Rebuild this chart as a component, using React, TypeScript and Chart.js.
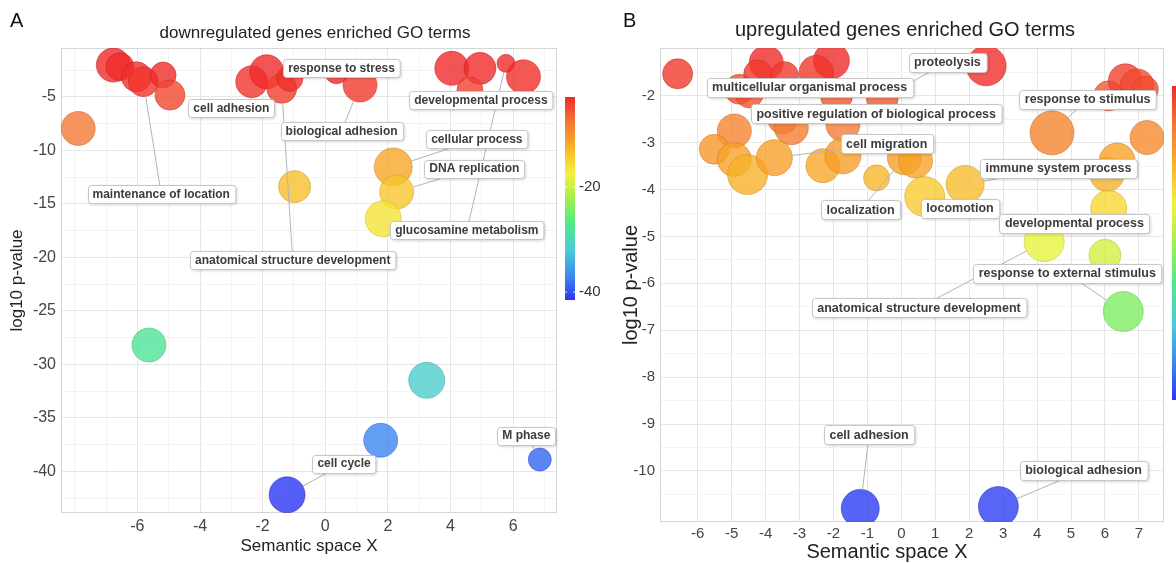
import React, { useEffect, useRef } from "react";
import { Chart, registerables } from "chart.js";

Chart.register(...registerables);

const FONT = '"Liberation Sans", Arial, Helvetica, sans-serif';

// ---------------- Panel A : downregulated ----------------
const downTitle = "downregulated genes enriched GO terms";
const downX = [-6.77, -6.56, -6.03, -5.81, -5.18, -4.96, -7.89, -2.35, -1.87, -1.39, -1.13, 0.36, 1.11, -0.98, 4.04, 4.94, 5.77, 6.33, 4.62, 2.17, 2.28, 1.85, -5.63, 3.24, 1.77, -1.22, 6.85];
const downY = [-2.03, -2.19, -3.13, -3.59, -2.97, -4.84, -7.96, -3.59, -2.66, -4.21, -3.28, -2.66, -3.9, -13.4, -2.34, -2.34, -1.87, -3.13, -4.37, -11.56, -13.9, -16.4, -28.2, -31.5, -37.1, -42.2, -38.9];
const downSize = [17, 14, 15, 15, 13, 15, 17, 16, 17, 15, 13, 12, 17, 16, 17, 16, 9, 17, 13, 19, 17, 18, 17, 18, 17, 18, 11.5];

const downLabelText = ["response to stress", "cell adhesion", "biological adhesion", "developmental process", "cellular process", "DNA replication", "glucosamine metabolism", "maintenance of location", "anatomical structure development", "cell cycle", "M phase"];
const downLabelX = [0.52, -3.0, 0.52, 4.97, 4.84, 4.76, 4.52, -5.24, -1.04, 0.6, 6.42];
const downLabelY = [-2.34, -6.09, -8.19, -5.31, -8.98, -11.71, -17.49, -14.12, -20.3, -39.28, -36.66];
const downLabelTarget = [-1, -1, 12, -1, 19, 20, 16, 3, 9, 25, 26];

const downXTicks = [-6, -4, -2, 0, 2, 4, 6];
const downXGrid = [-8, -7, -6, -5, -4, -3, -2, -1, 0, 1, 2, 3, 4, 5, 6, 7];
const downYTicks = [-5, -10, -15, -20, -25, -30, -35, -40];
const downYGrid = [-2.5, -5, -7.5, -10, -12.5, -15, -17.5, -20, -22.5, -25, -27.5, -30, -32.5, -35, -37.5, -40, -42.5];
const downColorTicks = [-20, -40];

// ---------------- Panel B : upregulated ----------------
const upTitle = "upregulated genes enriched GO terms";
const upX = [-6.59, -4.77, -4.48, -3.98, -4.23, -3.44, -2.06, -2.51, -1.91, -0.56, -3.49, -3.24, -1.72, -4.92, -5.51, -4.92, -4.53, -3.74, -2.31, -1.72, -0.73, 0.09, 0.42, 0.69, 1.88, 2.5, 4.44, 6.11, 6.6, 6.95, 7.19, 7.24, 6.36, 6.06, 6.11, 4.21, 6.0, 6.54, -1.21, 2.86];
const upY = [-1.53, -1.86, -1.96, -1.29, -1.53, -1.57, -1.25, -1.5, -2.0, -2.04, -2.5, -2.68, -2.61, -2.75, -3.14, -3.36, -3.68, -3.32, -3.49, -3.28, -3.75, -3.32, -3.39, -4.15, -3.89, -1.36, -2.79, -2.0, -1.68, -1.79, -1.86, -2.89, -3.39, -3.68, -4.4, -5.11, -5.4, -6.6, -10.8, -10.76];
const upSize = [15, 15, 14, 17, 14, 14, 18, 17, 16, 16, 15, 17, 17, 17, 15, 17, 20, 18, 17, 18, 13, 17, 17, 20, 19, 20, 22, 15, 17, 17, 13, 17, 18, 17, 18, 20, 16, 20, 19, 20];

const upLabelText = ["proteolysis", "multicellular organismal process", "positive regulation of biological process", "cell migration", "localization", "locomotion", "immune system process", "response to stimulus", "developmental process", "response to external stimulus", "anatomical structure development", "cell adhesion", "biological adhesion"];
const upLabelX = [1.36, -2.7, -0.74, -0.43, -1.2, 1.73, 4.63, 5.49, 5.1, 4.89, 0.52, -0.95, 5.37];
const upLabelY = [-1.29, -1.82, -2.38, -3.02, -4.43, -4.4, -3.54, -2.07, -4.72, -5.79, -6.52, -9.23, -9.99];
const upLabelTarget = [9, -1, -1, 17, 21, -1, 24, 26, -1, 37, 35, 38, 39];

const upXTicks = [-6, -5, -4, -3, -2, -1, 0, 1, 2, 3, 4, 5, 6, 7];
const upXGrid = [-6, -5, -4, -3, -2, -1, 0, 1, 2, 3, 4, 5, 6, 7];
const upYTicks = [-2, -3, -4, -5, -6, -7, -8, -9, -10];
const upYGrid = [-1.5, -2, -2.5, -3, -3.5, -4, -4.5, -5, -5.5, -6, -6.5, -7, -7.5, -8, -8.5, -9, -9.5, -10, -10.5];

// ---------------- colour ramp (style) ----------------
const STOPS: [number, number[]][] = [
  [0.0, [43, 54, 242]],
  [0.12, [60, 138, 240]],
  [0.24, [76, 202, 216]],
  [0.38, [82, 234, 132]],
  [0.5, [160, 240, 74]],
  [0.62, [242, 242, 60]],
  [0.7, [248, 204, 48]],
  [0.78, [248, 164, 40]],
  [0.88, [244, 116, 54]],
  [1.0, [240, 42, 42]],
];

function ramp(t: number): number[] {
  const v = Math.max(0, Math.min(1, t));
  for (let i = 1; i < STOPS.length; i++) {
    if (v <= STOPS[i][0]) {
      const [t0, c0] = STOPS[i - 1];
      const [t1, c1] = STOPS[i];
      const f = (v - t0) / (t1 - t0);
      return c0.map((c, k) => Math.round(c + (c1[k] - c) * f));
    }
  }
  return STOPS[STOPS.length - 1][1];
}

const MAJOR = "#e6e6e6";
const MINOR = "#f3f3f3";

type PanelCfg = {
  width: number;
  letter: string;
  title: string;
  titleX: number;
  titleY: number;
  titleSize: number;
  xs: number[];
  ys: number[];
  sizes: number[];
  labelText: string[];
  labelX: number[];
  labelY: number[];
  labelTarget: number[];
  labelH: number;
  labelFont: number;
  labelPad: number;
  colorMin: number;
  colorMax: number;
  barX: number;
  barW: number;
  barTop: number;
  barBottom: number;
  barTicks: number[];
  xMin: number;
  xMax: number;
  yMin: number;
  yMax: number;
  xTicks: number[];
  xGrid: number[];
  yTicks: number[];
  yGrid: number[];
  padRight: number;
  yWidth: number;
  xHeight: number;
  tickSize: number;
  axisTitleSize: number;
  yTitlePad: number;
  xTitlePadBottom: number;
  xTickPad: number;
  customXTitle?: { x: number; y: number };
};

function roundRect(ctx: CanvasRenderingContext2D, x: number, y: number, w: number, h: number, r: number) {
  ctx.beginPath();
  ctx.moveTo(x + r, y);
  ctx.lineTo(x + w - r, y);
  ctx.quadraticCurveTo(x + w, y, x + w, y + r);
  ctx.lineTo(x + w, y + h - r);
  ctx.quadraticCurveTo(x + w, y + h, x + w - r, y + h);
  ctx.lineTo(x + r, y + h);
  ctx.quadraticCurveTo(x, y + h, x, y + h - r);
  ctx.lineTo(x, y + r);
  ctx.quadraticCurveTo(x, y, x + r, y);
  ctx.closePath();
}

function makePlugin(cfg: PanelCfg) {
  return {
    id: "panelDecor" + cfg.letter,
    beforeDatasetsDraw(chart: any) {
      const { ctx, chartArea } = chart;
      ctx.save();
      ctx.strokeStyle = "#d6d6d6";
      ctx.lineWidth = 1;
      ctx.strokeRect(chartArea.left + 0.5, chartArea.top + 0.5, chartArea.right - chartArea.left - 1, chartArea.bottom - chartArea.top - 1);
      ctx.restore();
    },
    afterDatasetsDraw(chart: any) {
      const { ctx } = chart;
      const xs = chart.scales.x;
      const ys = chart.scales.y;
      ctx.save();
      // leader lines
      ctx.strokeStyle = "#b4b4b4";
      ctx.lineWidth = 1;
      cfg.labelText.forEach((_, i) => {
        const t = cfg.labelTarget[i];
        if (t < 0) return;
        const lx = xs.getPixelForValue(cfg.labelX[i]);
        const ly = ys.getPixelForValue(cfg.labelY[i]);
        const px = xs.getPixelForValue(cfg.xs[t]);
        const py = ys.getPixelForValue(cfg.ys[t]);
        const dx = lx - px;
        const dy = ly - py;
        const d = Math.sqrt(dx * dx + dy * dy) || 1;
        const r = cfg.sizes[t];
        ctx.beginPath();
        ctx.moveTo(lx, ly);
        ctx.lineTo(px + (dx / d) * r, py + (dy / d) * r);
        ctx.stroke();
      });
      // label boxes
      ctx.font = `bold ${cfg.labelFont}px ${FONT}`;
      ctx.textAlign = "center";
      ctx.textBaseline = "middle";
      cfg.labelText.forEach((text, i) => {
        const cx = xs.getPixelForValue(cfg.labelX[i]);
        const cy = ys.getPixelForValue(cfg.labelY[i]);
        const w = ctx.measureText(text).width + cfg.labelPad;
        const h = cfg.labelH;
        const x = Math.round(cx - w / 2) + 0.5;
        const y = Math.round(cy - h / 2) + 0.5;
        ctx.save();
        ctx.shadowColor = "rgba(0,0,0,0.22)";
        ctx.shadowBlur = 3;
        ctx.shadowOffsetX = 1;
        ctx.shadowOffsetY = 1;
        roundRect(ctx, x, y, w, h, 3);
        ctx.fillStyle = "#ffffff";
        ctx.fill();
        ctx.restore();
        roundRect(ctx, x, y, w, h, 3);
        ctx.strokeStyle = "#c6c6c6";
        ctx.stroke();
        ctx.fillStyle = "#3c3c3c";
        ctx.fillText(text, cx, cy + 0.5);
      });
      ctx.restore();
    },
    afterDraw(chart: any) {
      const { ctx } = chart;
      ctx.save();
      // panel letter
      ctx.fillStyle = "#111";
      ctx.font = `20px ${FONT}`;
      ctx.textAlign = "left";
      ctx.textBaseline = "middle";
      ctx.fillText(cfg.letter, cfg.letter === "A" ? 10 : 23, 21);
      // title
      ctx.font = `${cfg.titleSize}px ${FONT}`;
      ctx.textAlign = "center";
      ctx.fillStyle = "#222";
      ctx.fillText(cfg.title, cfg.titleX, cfg.titleY);
      // custom x title
      if (cfg.customXTitle) {
        ctx.font = `${cfg.axisTitleSize}px ${FONT}`;
        ctx.fillText("Semantic space X", cfg.customXTitle.x, cfg.customXTitle.y);
      }
      // colour bar
      const g = ctx.createLinearGradient(0, cfg.barBottom, 0, cfg.barTop);
      STOPS.forEach(([t, c]) => g.addColorStop(t, `rgb(${c[0]},${c[1]},${c[2]})`));
      ctx.fillStyle = g;
      ctx.fillRect(cfg.barX, cfg.barTop, cfg.barW, cfg.barBottom - cfg.barTop);
      ctx.font = `15px ${FONT}`;
      ctx.textAlign = "left";
      cfg.barTicks.forEach((v) => {
        const y = cfg.barTop + ((cfg.colorMax - v) / (cfg.colorMax - cfg.colorMin)) * (cfg.barBottom - cfg.barTop);
        ctx.strokeStyle = "rgba(255,255,255,0.9)";
        ctx.beginPath();
        ctx.moveTo(cfg.barX, y);
        ctx.lineTo(cfg.barX + 2, y);
        ctx.moveTo(cfg.barX + cfg.barW - 2, y);
        ctx.lineTo(cfg.barX + cfg.barW, y);
        ctx.stroke();
        ctx.fillStyle = "#333";
        ctx.fillText(String(v), cfg.barX + cfg.barW + 4, y);
      });
      ctx.restore();
    },
  };
}

function buildConfig(cfg: PanelCfg): any {
  const colors = cfg.ys.map((v) => ramp((v - cfg.colorMin) / (cfg.colorMax - cfg.colorMin)));
  const fill = colors.map((c) => `rgba(${c[0]},${c[1]},${c[2]},0.8)`);
  const border = colors.map((c) => `rgba(${Math.round(c[0] * 0.82)},${Math.round(c[1] * 0.82)},${Math.round(c[2] * 0.82)},0.55)`);
  return {
    type: "bubble",
    data: {
      datasets: [
        {
          data: cfg.xs.map((x, i) => ({ x, y: cfg.ys[i], r: cfg.sizes[i] })),
          backgroundColor: fill,
          borderColor: border,
          borderWidth: 1,
          clip: 0,
        },
      ],
    },
    options: {
      responsive: false,
      animation: false,
      events: [],
      layout: { autoPadding: false, padding: { left: 0, right: cfg.padRight, top: 48, bottom: 0 } },
      plugins: { legend: { display: false }, tooltip: { enabled: false }, title: { display: false } },
      scales: {
        x: {
          type: "linear",
          min: cfg.xMin,
          max: cfg.xMax,
          afterBuildTicks: (s: any) => {
            s.ticks = cfg.xGrid.map((v) => ({ value: v }));
          },
          afterFit: (s: any) => {
            s.height = cfg.xHeight;
            s.paddingLeft = 0;
            s.paddingRight = 0;
          },
          border: { display: false },
          grid: {
            drawTicks: false,
            color: (c: any) => (c.tick && cfg.xTicks.includes(c.tick.value) ? MAJOR : MINOR),
          },
          ticks: {
            autoSkip: false,
            maxRotation: 0,
            padding: cfg.xTickPad,
            font: { family: FONT, size: cfg.tickSize },
            color: "#444",
            callback: (v: number) => (cfg.xTicks.includes(v) ? String(v) : ""),
          },
          title: {
            display: !cfg.customXTitle,
            text: "Semantic space X",
            font: { family: FONT, size: cfg.axisTitleSize },
            color: "#222",
            padding: { top: 0, bottom: cfg.xTitlePadBottom },
          },
        },
        y: {
          type: "linear",
          min: cfg.yMin,
          max: cfg.yMax,
          afterBuildTicks: (s: any) => {
            s.ticks = cfg.yGrid.map((v) => ({ value: v }));
          },
          afterFit: (s: any) => {
            s.width = cfg.yWidth;
            s.paddingTop = 0;
            s.paddingBottom = 0;
          },
          border: { display: false },
          grid: {
            drawTicks: false,
            color: (c: any) => (c.tick && cfg.yTicks.includes(c.tick.value) ? MAJOR : MINOR),
          },
          ticks: {
            autoSkip: false,
            padding: 5,
            font: { family: FONT, size: cfg.tickSize },
            color: "#444",
            callback: (v: number) => (cfg.yTicks.includes(v) ? String(v) : ""),
          },
          title: {
            display: true,
            text: "log10 p-value",
            font: { family: FONT, size: cfg.axisTitleSize },
            color: "#222",
            padding: { top: cfg.yTitlePad, bottom: 0 },
          },
        },
      },
    },
    plugins: [makePlugin(cfg)],
  };
}

const panelA: PanelCfg = {
  width: 600,
  letter: "A",
  title: downTitle,
  titleX: 315,
  titleY: 33,
  titleSize: 17,
  xs: downX,
  ys: downY,
  sizes: downSize,
  labelText: downLabelText,
  labelX: downLabelX,
  labelY: downLabelY,
  labelTarget: downLabelTarget,
  labelH: 18,
  labelFont: 12,
  labelPad: 10,
  colorMin: -41.5,
  colorMax: -2.9,
  barX: 565,
  barW: 10,
  barTop: 97,
  barBottom: 300,
  barTicks: downColorTicks,
  xMin: -8.44,
  xMax: 7.4,
  yMin: -43.9,
  yMax: -0.44,
  xTicks: downXTicks,
  xGrid: downXGrid,
  yTicks: downYTicks,
  yGrid: downYGrid,
  padRight: 43,
  yWidth: 61,
  xHeight: 50,
  tickSize: 16,
  axisTitleSize: 17,
  yTitlePad: 7,
  xTitlePadBottom: 6,
  xTickPad: 4,
};

const panelB: PanelCfg = {
  width: 576,
  letter: "B",
  title: upTitle,
  titleX: 305,
  titleY: 30,
  titleSize: 20,
  xs: upX,
  ys: upY,
  sizes: upSize,
  labelText: upLabelText,
  labelX: upLabelX,
  labelY: upLabelY,
  labelTarget: upLabelTarget,
  labelH: 19,
  labelFont: 12.5,
  labelPad: 11,
  colorMin: -10.9,
  colorMax: -1.3,
  barX: 572,
  barW: 8,
  barTop: 86,
  barBottom: 400,
  barTicks: [],
  xMin: -7.11,
  xMax: 7.74,
  yMin: -11.09,
  yMax: -0.98,
  xTicks: upXTicks,
  xGrid: upXGrid,
  yTicks: upYTicks,
  yGrid: upYGrid,
  padRight: 12,
  yWidth: 60,
  xHeight: 41,
  tickSize: 15,
  axisTitleSize: 20,
  yTitlePad: 19,
  xTitlePadBottom: 0,
  xTickPad: 3,
  customXTitle: { x: 287, y: 552 },
};

function Panel({ cfg, left }: { cfg: PanelCfg; left: number }) {
  const ref = useRef<HTMLCanvasElement>(null);
  useEffect(() => {
    const chart = new Chart(ref.current as HTMLCanvasElement, buildConfig(cfg));
    return () => chart.destroy();
  }, [cfg]);
  return (
    <canvas
      ref={ref}
      width={cfg.width}
      height={563}
      style={{ position: "absolute", left, top: 0, width: cfg.width, height: 563 }}
    />
  );
}

export default function App() {
  return (
    <div style={{ position: "fixed", left: 0, top: 0, width: 1176, height: 563, background: "#fff", overflow: "hidden" }}>
      <Panel cfg={panelA} left={0} />
      <Panel cfg={panelB} left={600} />
    </div>
  );
}
